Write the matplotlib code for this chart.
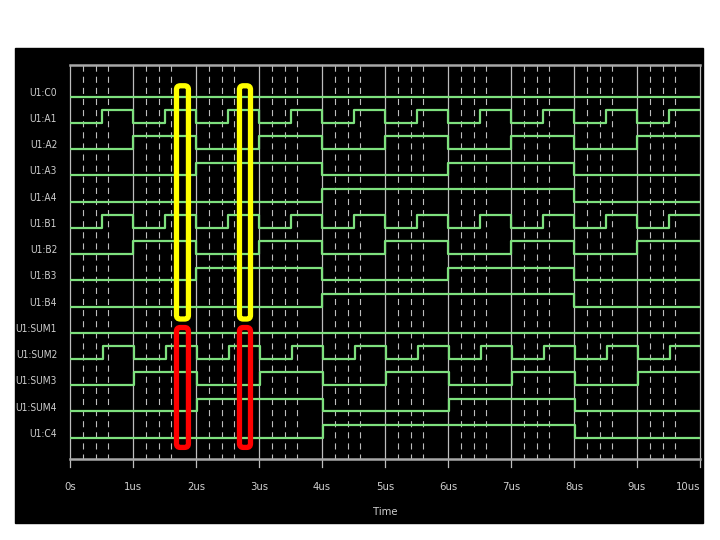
import numpy as np
import matplotlib
matplotlib.use("Agg")
import matplotlib.pyplot as plt
from matplotlib import font_manager
from matplotlib.patches import Rectangle, FancyBboxPatch

# signal names, top to bottom
names = ["U1:C0", "U1:A1", "U1:A2", "U1:A3", "U1:A4",
         "U1:B1", "U1:B2", "U1:B3", "U1:B4",
         "U1:SUM1", "U1:SUM2", "U1:SUM3", "U1:SUM4", "U1:C4"]

# logic level in each 0.5 us slot from 0 to 10 us
c0 = [0, 0, 0, 0, 0, 0, 0, 0, 0, 0, 0, 0, 0, 0, 0, 0, 0, 0, 0, 0]
a1 = [0, 1, 0, 1, 0, 1, 0, 1, 0, 1, 0, 1, 0, 1, 0, 1, 0, 1, 0, 1]
a2 = [0, 0, 1, 1, 0, 0, 1, 1, 0, 0, 1, 1, 0, 0, 1, 1, 0, 0, 1, 1]
a3 = [0, 0, 0, 0, 1, 1, 1, 1, 0, 0, 0, 0, 1, 1, 1, 1, 0, 0, 0, 0]
a4 = [0, 0, 0, 0, 0, 0, 0, 0, 1, 1, 1, 1, 1, 1, 1, 1, 0, 0, 0, 0]
b1 = [0, 1, 0, 1, 0, 1, 0, 1, 0, 1, 0, 1, 0, 1, 0, 1, 0, 1, 0, 1]
b2 = [0, 0, 1, 1, 0, 0, 1, 1, 0, 0, 1, 1, 0, 0, 1, 1, 0, 0, 1, 1]
b3 = [0, 0, 0, 0, 1, 1, 1, 1, 0, 0, 0, 0, 1, 1, 1, 1, 0, 0, 0, 0]
b4 = [0, 0, 0, 0, 0, 0, 0, 0, 1, 1, 1, 1, 1, 1, 1, 1, 0, 0, 0, 0]
sum1 = [0, 0, 0, 0, 0, 0, 0, 0, 0, 0, 0, 0, 0, 0, 0, 0, 0, 0, 0, 0]
sum2 = [0, 1, 0, 1, 0, 1, 0, 1, 0, 1, 0, 1, 0, 1, 0, 1, 0, 1, 0, 1]
sum3 = [0, 0, 1, 1, 0, 0, 1, 1, 0, 0, 1, 1, 0, 0, 1, 1, 0, 0, 1, 1]
sum4 = [0, 0, 0, 0, 1, 1, 1, 1, 0, 0, 0, 0, 1, 1, 1, 1, 0, 0, 0, 0]
c4 = [0, 0, 0, 0, 0, 0, 0, 0, 1, 1, 1, 1, 1, 1, 1, 1, 0, 0, 0, 0]
levels = [c0, a1, a2, a3, a4, b1, b2, b3, b4, sum1, sum2, sum3, sum4, c4]
# gate delay (us) seen on the outputs
delays = [0, 0, 0, 0, 0, 0, 0, 0, 0, 0.02, 0.02, 0.02, 0.02, 0.02]

tick_labels = ["0s", "1us", "2us", "3us", "4us", "5us", "6us",
               "7us", "8us", "9us", "10us"]
cursor_offsets = [0.21, 0.41, 0.6]
# highlighted time windows (us)
highlights = [(1.69, 1.88), (2.69, 2.865)]

green = "#7ee07e"
grey = "#bdbdbd"
txt = "#cfcfcf"

# pick a narrow face if there is one
installed = {f.name for f in font_manager.fontManager.ttflist}
txt_kw = dict(family="DejaVu Sans Mono", fontsize=6.4)
if "Liberation Sans Narrow" in installed:
    txt_kw = dict(family="Liberation Sans Narrow", fontsize=8)
else:
    cond = font_manager.findfont(font_manager.FontProperties(
        family="DejaVu Sans", stretch="condensed"))
    if "ondensed" in cond:
        txt_kw = dict(family="DejaVu Sans", stretch="condensed",
                      fontsize=7.3)
tick_kw = dict(txt_kw, fontsize=txt_kw["fontsize"] + 0.8)

fig = plt.figure(figsize=(7.2, 5.4), dpi=100)
fig.patch.set_facecolor("white")
fig.add_artist(Rectangle((15 / 720, 1 - 523 / 540), 688 / 720, 475 / 540,
                         transform=fig.transFigure, color="black", zorder=0))

ax = fig.add_axes([70 / 720, 1 - 459 / 540, 630 / 720, 394 / 540])
ax.set_facecolor("black")
ax.set_xlim(0, 10)
ax.set_ylim(13.812, -1.208)
ax.axis("off")

xa = ax.get_xaxis_transform()
ya = ax.get_yaxis_transform()

# grid: solid at each us, dashed cursors inside
for k in range(11):
    ax.plot([k, k], [-0.02, 1], transform=xa, color=grey, lw=0.9,
            clip_on=False, zorder=1)
for k in range(10):
    for off in cursor_offsets:
        ax.plot([k + off, k + off], [0, 1], transform=xa, color=grey,
                lw=0.8, ls=(1, (5.5, 4.5)), zorder=1)
ax.plot([0, 10], [1, 1], transform=xa, color="#a8a8a8", lw=1.8,
        clip_on=False, zorder=2)
ax.plot([0, 10], [0, 0], transform=xa, color="#a8a8a8", lw=1.8,
        clip_on=False, zorder=2)

# waveforms
slots = np.arange(0, 10.5, 0.5)
for r, (lv, d) in enumerate(zip(levels, delays)):
    t = np.clip(slots + d, 0, 10)
    t[0] = 0
    y = r - 0.488 * np.append(lv, lv[-1])
    ax.step(t, y, where="post", color=green, lw=1.6, zorder=3)
    ax.text(-0.0206, r - 0.15, names[r], transform=ya, ha="right",
            va="center", color=txt, **txt_kw)

for k, lab in enumerate(tick_labels):
    ha = "right" if k == len(tick_labels) - 1 else "center"
    ax.text(k, -0.071, lab, transform=xa, ha=ha, va="center",
            color=txt, **tick_kw)
ax.text(5, -0.1345, "Time", transform=xa, ha="center", va="center",
        color=txt, **tick_kw)

# highlight boxes (rounded); aspect = rows-per-px / us-per-px
aspect = (15.02 / 394) / (10 / 630)
for x0, x1 in highlights:
    for (y0, y1), col in [((-0.416, 8.475), "#ffff00"),
                          ((8.8, 13.37), "#ff0000")]:
        ax.add_patch(FancyBboxPatch(
            (x0, y0), x1 - x0, y1 - y0,
            boxstyle="round,pad=0,rounding_size=0.06",
            mutation_aspect=aspect, fill=False, ec=col, lw=3.8,
            zorder=5))

fig.savefig("out.png", dpi=100)
